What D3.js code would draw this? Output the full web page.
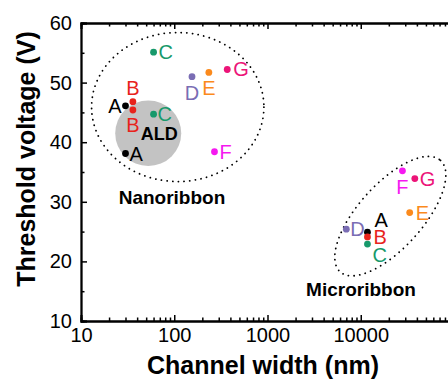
<!DOCTYPE html>
<html>
<head>
<meta charset="utf-8">
<script src="https://cdn.jsdelivr.net/npm/d3@7"></script>
<style>
  body { margin: 0; background: #fff; }
  svg { display: block; font-family: Arial, "Liberation Sans", sans-serif; }
</style>
</head>
<body>
<svg id="chart" width="448" height="379"></svg>
<script>
// samples
const nanoNames = ['C', 'G', 'E', 'D', 'A', 'B', 'B', 'C', 'A', 'F'];
const nanoWidth = [60, 370, 235, 155, 30, 36, 36, 60, 30, 270];
const nanoVolt = [55.1, 52.2, 51.7, 51.0, 46.1, 46.8, 45.4, 44.7, 38.1, 38.4];

const microNames = ['F', 'G', 'E', 'D', 'A', 'B', 'C'];
const microWidth = [28000, 38000, 33500, 7000, 11800, 11800, 11800];
const microVolt = [35.2, 33.9, 28.2, 25.4, 24.9, 24.1, 22.9];

const xTicks = [10, 100, 1000, 10000];
const yTicks = [10, 20, 30, 40, 50, 60];

const colors = {
  A: '#000000', B: '#e8231c', C: '#17996b', D: '#7a6db4',
  E: '#fb8a1c', F: '#f519f0', G: '#ec1478'
};

// where each letter sits next to its dot: [dx, dy, anchor]
const nanoPlace = [[5, 7, 'start'], [6, 7, 'start'], [0, 23, 'middle'], [0, 23, 'middle'],
  [-4, 7, 'end'], [0, -7, 'middle'], [0, 22, 'middle'], [4, 7, 'start'], [4, 7, 'start'], [5, 7, 'start']];
const microPlace = [[0, 23, 'middle'], [5, 7, 'start'], [6, 7, 'start'], [4, 7, 'start'],
  [7, -5, 'start'], [6, 7, 'start'], [5, 18, 'start']];

const svg = d3.select('#chart');

const x = d3.scaleLog().domain([10, 100000]).range([81, 454]);
const y = d3.scaleLinear().domain([10, 60]).range([321, 23]);

// grey ALD blob and dotted group outlines
const ald = { cx: 52.6, cy: 41.5, rx: 0.354, ry: 5.5 };
svg.append('ellipse')
  .attr('cx', x(ald.cx)).attr('cy', y(ald.cy))
  .attr('rx', x(10 * Math.pow(10, ald.rx)) - x(10))
  .attr('ry', y(10) - y(10 + ald.ry))
  .attr('fill', '#c3c3c3');

const nanoRing = { cx: 109, cy: 45.9, rx: 0.924, ry: 12.5 };
svg.append('ellipse')
  .attr('cx', x(nanoRing.cx)).attr('cy', y(nanoRing.cy))
  .attr('rx', x(10 * Math.pow(10, nanoRing.rx)) - x(10))
  .attr('ry', y(10) - y(10 + nanoRing.ry))
  .attr('fill', 'none').attr('stroke', '#000')
  .attr('stroke-width', 1.8).attr('stroke-linecap', 'round')
  .attr('stroke-dasharray', '0.1 5.6');

const microRing = { cx: 20750, cy: 27.6, a: 75, b: 32, angle: -48 };
svg.append('ellipse')
  .attr('transform', `translate(${x(microRing.cx)},${y(microRing.cy)}) rotate(${microRing.angle})`)
  .attr('rx', microRing.a).attr('ry', microRing.b)
  .attr('fill', 'none').attr('stroke', '#000')
  .attr('stroke-width', 1.8).attr('stroke-linecap', 'round')
  .attr('stroke-dasharray', '0.1 5.6');

// axes
const minorX = [];
for (let d = 10; d < 100000; d *= 10) {
  for (let k = 2; k <= 9; k++) minorX.push(d * k);
}
const minorY = d3.range(15, 60, 10);

const fmt = d3.format('d');

svg.append('g').attr('transform', `translate(0,${y(10)})`)
  .call(d3.axisBottom(x).tickValues(xTicks).tickFormat(fmt).tickSize(-6).tickPadding(7));
svg.append('g').attr('transform', `translate(0,${y(10)})`)
  .call(d3.axisBottom(x).tickValues(minorX).tickFormat('').tickSize(-3.5));
svg.append('g').attr('transform', `translate(0,${y(60)})`)
  .call(d3.axisTop(x).tickValues(xTicks).tickFormat('').tickSize(-6));
svg.append('g').attr('transform', `translate(0,${y(60)})`)
  .call(d3.axisTop(x).tickValues(minorX).tickFormat('').tickSize(-3.5));

svg.append('g').attr('transform', `translate(${x(10)},0)`)
  .call(d3.axisLeft(y).tickValues(yTicks).tickFormat(fmt).tickSize(-6).tickPadding(9));
svg.append('g').attr('transform', `translate(${x(10)},0)`)
  .call(d3.axisLeft(y).tickValues(minorY).tickFormat('').tickSize(-3.5));
svg.append('g').attr('transform', `translate(${x(100000)},0)`)
  .call(d3.axisRight(y).tickValues(yTicks).tickFormat('').tickSize(-6));
svg.append('g').attr('transform', `translate(${x(100000)},0)`)
  .call(d3.axisRight(y).tickValues(minorY).tickFormat('').tickSize(-3.5));

svg.selectAll('.domain').attr('stroke', '#000').attr('stroke-width', 1.8);
svg.selectAll('.tick line').attr('stroke', '#000').attr('stroke-width', 1.5);
svg.selectAll('.tick text').attr('font-size', 20).attr('fill', '#000')
  .attr('font-family', 'Arial, "Liberation Sans", sans-serif');

// points
const nano = nanoNames.map((n, i) => ({ n, w: nanoWidth[i], v: nanoVolt[i], p: nanoPlace[i] }));
const micro = microNames.map((n, i) => ({ n, w: microWidth[i], v: microVolt[i], p: microPlace[i] }));
const all = nano.concat(micro);

svg.append('g').selectAll('circle')
  .data(all)
  .enter()
  .append('circle')
  .attr('cx', d => x(d.w))
  .attr('cy', d => y(d.v))
  .attr('r', 3.4)
  .attr('fill', d => colors[d.n]);

svg.append('g').selectAll('text')
  .data(all)
  .enter()
  .append('text')
  .attr('x', d => x(d.w) + d.p[0])
  .attr('y', d => y(d.v) + d.p[1])
  .attr('text-anchor', d => d.p[2])
  .attr('font-size', 20)
  .attr('fill', d => colors[d.n])
  .text(d => d.n);

// group names
svg.append('text')
  .attr('x', x(ald.cx) + 11).attr('y', y(ald.cy) + 7)
  .attr('text-anchor', 'middle').attr('font-size', 18).attr('font-weight', 'bold')
  .text('ALD');
svg.append('text')
  .attr('x', 172).attr('y', 204)
  .attr('text-anchor', 'middle').attr('font-size', 19).attr('font-weight', 'bold')
  .text('Nanoribbon');
svg.append('text')
  .attr('x', 361).attr('y', 296)
  .attr('text-anchor', 'middle').attr('font-size', 19).attr('font-weight', 'bold')
  .text('Microribbon');

// axis titles
svg.append('text')
  .attr('x', 263).attr('y', 374)
  .attr('text-anchor', 'middle').attr('font-size', 25).attr('font-weight', 'bold')
  .text('Channel width (nm)');
svg.append('text')
  .attr('transform', 'translate(35,159) rotate(-90)')
  .attr('text-anchor', 'middle').attr('font-size', 25).attr('font-weight', 'bold')
  .text('Threshold voltage (V)');
</script>
</body>
</html>
